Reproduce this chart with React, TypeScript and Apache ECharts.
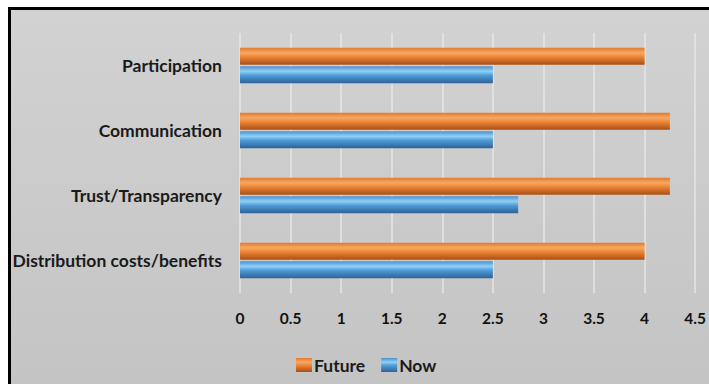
import React, { useEffect, useRef } from "react";
import * as echarts from "echarts";

const categories = ["Participation", "Communication", "Trust/Transparency", "Distribution costs/benefits"];
const futureValues = [4, 4.25, 4.25, 4];
const nowValues = [2.5, 2.5, 2.75, 2.5];
const xTicks = [0, 0.5, 1, 1.5, 2, 2.5, 3, 3.5, 4, 4.5];

const FONT = "Lato";

const orangeGrad = new echarts.graphic.LinearGradient(0, 0, 0, 1, [
  { offset: 0, color: "#e27a2e" },
  { offset: 0.3, color: "#f7a862" },
  { offset: 0.55, color: "#ea8434" },
  { offset: 1, color: "#a94e14" },
]);
const blueGrad = new echarts.graphic.LinearGradient(0, 0, 0, 1, [
  { offset: 0, color: "#4b8fcf" },
  { offset: 0.3, color: "#8fd0f5" },
  { offset: 0.55, color: "#4f9ad6" },
  { offset: 1, color: "#2d6297" },
]);

export default function App() {
  const ref = useRef<HTMLDivElement>(null);
  useEffect(() => {
    document.body.style.margin = "0";
    const chart = echarts.init(ref.current!, undefined, { renderer: "svg" });
    chart.setOption({
      animation: false,
      backgroundColor: "#ffffff",
      graphic: [
        {
          type: "rect",
          z: -10,
          silent: true,
          shape: { x: 9.5, y: 8.5, width: 720, height: 400 },
          style: {
            fill: new echarts.graphic.LinearGradient(0, 0, 0, 1, [
              { offset: 0, color: "#d2d2d2" },
              { offset: 1, color: "#c3c3c3" },
            ]),
            stroke: "#000000",
            lineWidth: 3,
          },
        },
      ],
      legend: {
        bottom: 5,
        left: 291,
        itemWidth: 16,
        itemHeight: 14,
        itemGap: 16,
        icon: "rect",
        textStyle: { fontFamily: FONT, fontWeight: "bold", fontSize: 17.5, color: "#1a1a1a", padding: [0, 0, 0, -3] },
        data: ["Future", "Now"],
      },
      grid: { left: 240, right: 11, top: 33, bottom: 91, containLabel: false },
      xAxis: {
        type: "value",
        min: 0,
        max: 4.5,
        interval: 0.5,
        axisLine: { show: false },
        axisTick: { show: false },
        splitLine: { show: true, lineStyle: { color: "#e6e6e6", width: 1.5 } },
        axisLabel: {
          fontFamily: FONT,
          fontWeight: "bold",
          fontSize: 15.5,
          color: "#111111",
          margin: 17,
          formatter: (v: number) => (xTicks.includes(v) ? String(v) : ""),
        },
      },
      yAxis: {
        type: "category",
        inverse: true,
        data: categories,
        axisLine: { show: false },
        axisTick: { show: false },
        axisLabel: {
          fontFamily: FONT,
          fontWeight: "bold",
          fontSize: 17.5,
          color: "#1a1a1a",
          margin: 18,
        },
      },
      series: [
        {
          name: "Future",
          type: "bar",
          data: futureValues,
          barWidth: 17,
          barGap: "8%",
          barCategoryGap: "46%",
          itemStyle: { color: orangeGrad },
        },
        {
          name: "Now",
          type: "bar",
          data: nowValues,
          barWidth: 17,
          itemStyle: { color: blueGrad },
        },
      ],
    });
    return () => chart.dispose();
  }, []);
  return <div ref={ref} style={{ width: 709, height: 384 }} />;
}
